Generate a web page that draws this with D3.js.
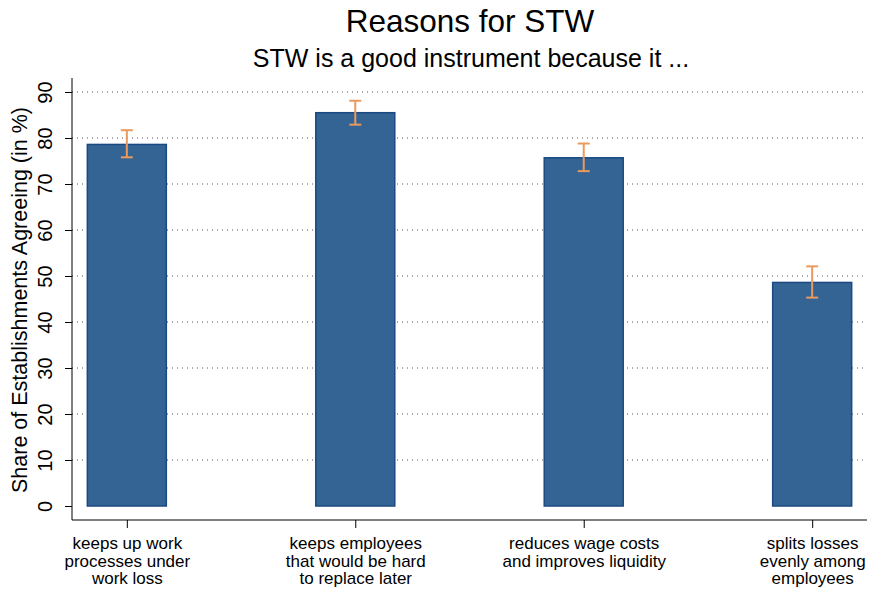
<!DOCTYPE html>
<html>
<head>
<meta charset="utf-8">
<script src="https://cdn.jsdelivr.net/npm/d3@7"></script>
<style>
  body { margin: 0; background: #fff; }
  text { font-family: Arial, "Liberation Sans", sans-serif; fill: #000; }
</style>
</head>
<body>
<svg id="chart" width="870" height="590"></svg>
<script>
// data
const categories = [
  ["keeps up work", "processes under", "work loss"],
  ["keeps employees", "that would be hard", "to replace later"],
  ["reduces wage costs", "and improves liquidity"],
  ["splits losses", "evenly among", "employees"]
];
const shares = [78.6, 85.5, 75.7, 48.6];
const ciLow = [75.8, 82.9, 72.8, 45.3];
const ciHigh = [81.7, 88.1, 78.8, 52.1];
const yTicks = [0, 10, 20, 30, 40, 50, 60, 70, 80, 90];

const svg = d3.select("#chart");
const plotLeft = 72, plotRight = 867, plotTop = 78, axisY = 520;

const x = d3.scalePoint()
  .domain(d3.range(categories.length))
  .range([plotLeft, plotRight])
  .padding(0.24);

const y = d3.scaleLinear()
  .domain([0, 90])
  .range([506, 92]);

const barW = 79;

// titles
svg.append("text")
  .attr("x", 470).attr("y", 32)
  .attr("text-anchor", "middle")
  .style("font-size", "31.5px")
  .text("Reasons for STW");

svg.append("text")
  .attr("x", 471).attr("y", 67)
  .attr("text-anchor", "middle")
  .style("font-size", "25px")
  .text("STW is a good instrument because it ...");

// dotted gridlines
svg.append("g")
  .selectAll("line")
  .data(yTicks.filter(d => d > 0))
  .enter()
  .append("line")
  .attr("x1", plotLeft).attr("x2", plotRight)
  .attr("y1", d => y(d)).attr("y2", d => y(d))
  .attr("stroke", "#555")
  .attr("stroke-width", 1)
  .attr("stroke-dasharray", "1,4");

// bars
svg.append("g")
  .selectAll("rect")
  .data(shares)
  .enter()
  .append("rect")
  .attr("x", (d, i) => x(i) - barW / 2)
  .attr("y", d => y(d))
  .attr("width", barW)
  .attr("height", d => y(0) - y(d))
  .attr("fill", "#336494")
  .attr("stroke", "#1a4a82")
  .attr("stroke-width", 1.5);

// error bars
const err = svg.append("g")
  .attr("stroke", "#ea9a5e")
  .attr("stroke-width", 2);
shares.forEach((d, i) => {
  const cx = x(i);
  err.append("line")
    .attr("x1", cx).attr("x2", cx)
    .attr("y1", y(ciLow[i])).attr("y2", y(ciHigh[i]));
  err.append("line")
    .attr("x1", cx - 6).attr("x2", cx + 6)
    .attr("y1", y(ciLow[i])).attr("y2", y(ciLow[i]));
  err.append("line")
    .attr("x1", cx - 6).attr("x2", cx + 6)
    .attr("y1", y(ciHigh[i])).attr("y2", y(ciHigh[i]));
});

// y axis
const yAxis = svg.append("g")
  .attr("transform", "translate(" + plotLeft + ",0)")
  .call(d3.axisLeft(y).tickValues(yTicks).tickSize(7).tickSizeOuter(0));
yAxis.select(".domain").attr("d", "M0," + plotTop + "V" + axisY).attr("stroke", "#000");
yAxis.selectAll(".tick line").attr("stroke", "#000");
yAxis.selectAll(".tick text")
  .style("font-size", "20px")
  .attr("text-anchor", "middle")
  .attr("x", null)
  .attr("y", 0)
  .attr("dy", null)
  .attr("transform", "translate(-20,0) rotate(-90)");

svg.append("text")
  .attr("transform", "translate(27,300) rotate(-90)")
  .attr("text-anchor", "middle")
  .style("font-size", "21.5px")
  .text("Share of Establishments Agreeing (in %)");

// x axis
const xAxis = svg.append("g")
  .attr("transform", "translate(0," + axisY + ")")
  .call(d3.axisBottom(x).tickSize(8).tickSizeOuter(0).tickFormat(""));
xAxis.select(".domain").attr("d", "M" + plotLeft + ",0H" + plotRight).attr("stroke", "#000");
xAxis.selectAll(".tick line").attr("stroke", "#000");

xAxis.selectAll(".tick").each(function(d) {
  const t = d3.select(this).append("text")
    .attr("text-anchor", "middle")
    .attr("y", 29)
    .style("font-size", "17px");
  categories[d].forEach((line, k) => {
    t.append("tspan").attr("x", 0).attr("dy", k === 0 ? 0 : 17.5).text(line);
  });
});
</script>
</body>
</html>
